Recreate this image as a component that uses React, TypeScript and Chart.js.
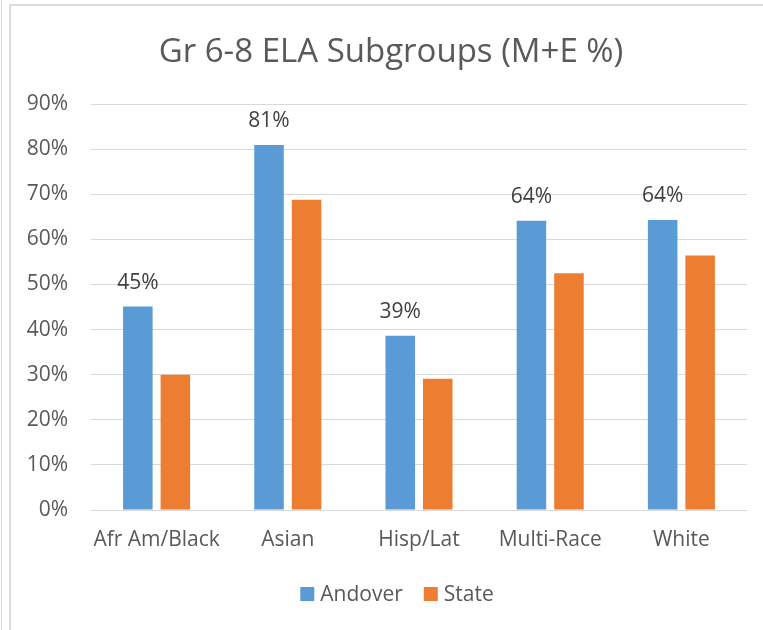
import React, { useEffect, useRef } from "react";
import { Chart, registerables } from "chart.js";

Chart.register(...registerables);

const title = "Gr 6-8 ELA Subgroups (M+E %)";
const categories = ["Afr Am/Black", "Asian", "Hisp/Lat", "Multi-Race", "White"];
const andover = [45.1, 80.9, 38.6, 64.1, 64.3];
const state = [30.0, 68.8, 29.1, 52.5, 56.4];
const andoverLabels = ["45%", "81%", "39%", "64%", "64%"];
const seriesNames = ["Andover", "State"];
const seriesColors = ["#5B9BD5", "#ED7D31"];

const FONT = "'Open Sans', sans-serif";
const TEXT = "#595959";

const overlayPlugin = {
  id: "overlay",
  afterDatasetsDraw(chart: any) {
    const ctx = chart.ctx;
    const meta = chart.getDatasetMeta(0);
    ctx.save();
    ctx.font = `21px ${FONT}`;
    ctx.fillStyle = "#404040";
    ctx.textAlign = "center";
    ctx.textBaseline = "alphabetic";
    meta.data.forEach((bar: any, i: number) => {
      ctx.fillText(andoverLabels[i], bar.x, bar.y - 18);
    });
    ctx.restore();
  },
  afterDraw(chart: any) {
    const ctx = chart.ctx;
    ctx.save();
    // title
    ctx.font = `33px ${FONT}`;
    ctx.fillStyle = TEXT;
    ctx.textAlign = "center";
    ctx.textBaseline = "alphabetic";
    ctx.fillText(title, 391, 62);
    // legend
    ctx.font = `21px ${FONT}`;
    const box = 14;
    const gapBoxText = 6;
    const gapItems = 21;
    const widths = seriesNames.map((n) => ctx.measureText(n).width);
    let total = 0;
    widths.forEach((w, i) => {
      total += box + gapBoxText + w + (i < widths.length - 1 ? gapItems : 0);
    });
    let x = 397 - total / 2;
    ctx.textAlign = "left";
    seriesNames.forEach((n, i) => {
      ctx.fillStyle = seriesColors[i];
      ctx.fillRect(x, 587, box, box);
      ctx.fillStyle = TEXT;
      ctx.fillText(n, x + box + gapBoxText, 601);
      x += box + gapBoxText + widths[i] + gapItems;
    });
    ctx.restore();
  },
};

export default function App() {
  const ref = useRef<HTMLCanvasElement>(null);
  useEffect(() => {
    if (!ref.current) return;
    const chart = new Chart(ref.current, {
      type: "bar",
      data: {
        labels: categories,
        datasets: [
          {
            label: seriesNames[0],
            data: andover,
            backgroundColor: seriesColors[0],
            categoryPercentage: 0.572,
            barPercentage: 0.787,
          },
          {
            label: seriesNames[1],
            data: state,
            backgroundColor: seriesColors[1],
            categoryPercentage: 0.572,
            barPercentage: 0.787,
          },
        ],
      },
      options: {
        responsive: false,
        animation: false,
        layout: { padding: { left: 0, top: 104, right: 16, bottom: 0 } },
        plugins: {
          legend: { display: false },
          title: { display: false },
          tooltip: { enabled: false },
        },
        scales: {
          x: {
            grid: { display: false, drawTicks: false },
            border: { display: false },
            ticks: {
              color: TEXT,
              font: { family: FONT, size: 21 },
              padding: 17,
              maxRotation: 0,
              autoSkip: false,
            },
            afterFit(scale: any) {
              scale.height = 120;
            },
          },
          y: {
            min: 0,
            max: 90,
            grid: { color: "#d9d9d9", lineWidth: 1, drawTicks: false },
            border: { display: false },
            ticks: {
              stepSize: 10,
              color: TEXT,
              font: { family: FONT, size: 21 },
              padding: 23,
              callback: (v: any) => `${v}%`,
            },
            afterFit(scale: any) {
              scale.width = 91;
            },
          },
        },
      },
      plugins: [overlayPlugin],
    });
    return () => chart.destroy();
  }, []);

  return (
    <div
      style={{
        position: "absolute",
        left: 0,
        top: 0,
        width: 763,
        height: 630,
        overflow: "hidden",
        background: "#ffffff",
      }}
    >
      <div
        style={{
          position: "absolute",
          left: 1,
          top: 0,
          width: 1,
          height: 630,
          background: "#d9d9d9",
        }}
      />
      <div
        style={{
          position: "absolute",
          left: 9,
          top: 4,
          width: 800,
          height: 700,
          border: "2px solid #dcdcdc",
          boxSizing: "border-box",
        }}
      />
      <canvas
        ref={ref}
        width={763}
        height={630}
        style={{ position: "absolute", left: 0, top: 0, width: 763, height: 630 }}
      />
    </div>
  );
}
